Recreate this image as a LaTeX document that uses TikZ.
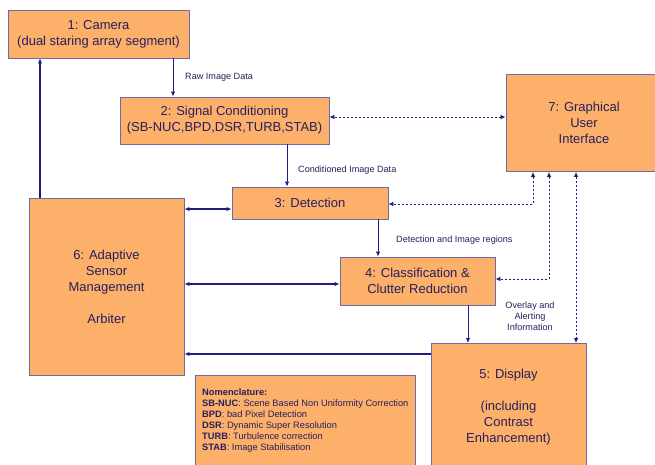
\documentclass[tikz,border=0pt]{standalone}
\usepackage{fontspec}
\setmainfont{Liberation Sans}
\usetikzlibrary{arrows.meta}
\definecolor{boxfill}{RGB}{252,176,106}
\definecolor{boxline}{RGB}{112,104,160}
\definecolor{txt}{RGB}{40,30,95}
\definecolor{conn}{RGB}{30,30,130}
\tikzset{
  blk/.style={draw=boxline, line width=0.9pt, fill=boxfill, text=txt, align=center,
    inner sep=0pt, font=\fontsize{13}{16}\selectfont},
  lbl/.style={text=txt, font=\fontsize{9.1}{11}\selectfont, align=center, inner sep=0pt},
  flow/.style={draw=conn, line width=1.3pt, -{Latex[length=5pt,width=4.5pt]}},
  flowthin/.style={draw=conn, line width=0.9pt, -{Latex[length=5pt,width=4.5pt]}},
  both/.style={draw=conn, line width=1.3pt, {Latex[length=5pt,width=4.5pt]}-{Latex[length=5pt,width=4.5pt]}},
  dash2/.style={draw=conn, line width=0.8pt, dash pattern=on 2.2pt off 1.8pt,
    {Latex[length=5pt,width=4.5pt]}-{Latex[length=5pt,width=4.5pt]}},
}
\begin{document}
\begin{tikzpicture}[x=1pt,y=-1pt]
\clip (0,0) rectangle (655,464);
\fill[white] (0,0) rectangle (655,464);
% boxes
\node[blk, minimum width=181pt, minimum height=48pt] (cam) at (98.5,34) {1: Camera\\(dual staring array segment)};
\node[blk, minimum width=209pt, minimum height=47pt] (sig) at (224.5,120.5) {2: Signal Conditioning\\(SB-NUC,BPD,DSR,TURB,STAB)};
\node[blk, minimum width=156pt, minimum height=32pt] (det) at (310,203) {3: Detection};
\node[blk, minimum width=155pt, minimum height=48pt] (cls) at (417.5,281) {4: Classification \&\\Clutter Reduction};
\node[blk, minimum width=155pt, minimum height=177pt] (asm) at (106.5,286.5) {6: Adaptive\\Sensor\\Management\\[16pt]Arbiter};
\node[blk, minimum width=156pt, minimum height=97pt] (gui) at (584,123) {7: Graphical\\User\\Interface};
\node[blk, minimum width=155pt, minimum height=135pt, anchor=north] (dsp) at (508.5,343) {};
\node[text=txt, align=center, font=\fontsize{13}{16}\selectfont] (dsptxt) at (508.5,407) {5: Display\\[16pt](including\\Contrast\\Enhancement)};
\node[blk, minimum width=220pt, minimum height=100pt, anchor=north west] (nom) at (195,375) {};
\node[text=txt, align=left, anchor=north west, inner sep=0pt, font=\fontsize{9.3}{11}\selectfont] (nomtxt) at (202,389)
 {\textbf{Nomenclature:}\\
  \textbf{SB-NUC}: Scene Based Non Uniformity Correction\\
  \textbf{BPD}: bad Pixel Detection\\
  \textbf{DSR}: Dynamic Super Resolution\\
  \textbf{TURB}: Turbulence correction\\
  \textbf{STAB}: Image Stabilisation};
% labels
\node[lbl, anchor=west] (l1) at (185,77) {Raw Image Data};
\node[lbl, anchor=west] (l2) at (298,170) {Conditioned Image Data};
\node[lbl, anchor=west] (l3) at (396,240) {Detection and Image regions};
\node[lbl] (l4) at (530,316) {Overlay and\\Alerting\\Information};
% solid flows
\draw[flowthin] (cam.south -| 173,0) -- (sig.north -| 173,0);
\draw[flowthin] (sig.south -| 287,0) -- (det.north -| 287,0);
\draw[flowthin] (det.south -| 378,0) -- (cls.north -| 378,0);
\draw[flowthin] (cls.south -| 468,0) -- (dsp.north -| 468,0);
\draw[flow] (asm.north -| 40,0) -- (cam.south -| 40,0);
\draw[both] (asm.east |- 0,209) -- (det.west |- 0,209);
\draw[both] (asm.east |- 0,284) -- (cls.west |- 0,284);
\draw[flow] (dsp.west |- 0,354) -- (asm.east |- 0,354);
% dashed links with GUI
\draw[dash2] (gui.west |- 0,117) -- (sig.east |- 0,117);
\draw[dash2] (gui.south -| 533,0) -- (533,204) -- (det.east |- 0,204);
\draw[dash2] (gui.south -| 549,0) -- (549,279) -- (cls.east |- 0,279);
\draw[dash2] (gui.south -| 576,0) -- (dsp.north -| 576,0);
\end{tikzpicture}
\end{document}
